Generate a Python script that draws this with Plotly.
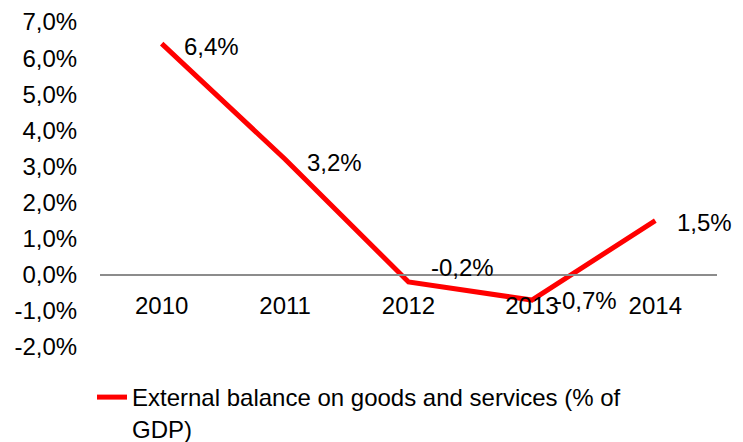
import plotly.graph_objects as go

years = ["2010", "2011", "2012", "2013", "2014"]
balance_pct = [6.4, 3.2, -0.2, -0.7, 1.5]
series_name = "External balance on goods and services (% of<br>GDP)"
y_ticks = [-2, -1, 0, 1, 2, 3, 4, 5, 6, 7]


def pct_label(v, decimals=1):
    return f"{v:.{decimals}f}".replace(".", ",") + "%"


y_tick_text = [pct_label(v) for v in y_ticks]

FONT = "Liberation Sans, Arial, sans-serif"
FS = 24
RED = "#FF0000"

fig = go.Figure()
fig.add_trace(go.Scatter(
    x=years, y=balance_pct, mode="lines",
    line=dict(color=RED, width=5),
    name=series_name, showlegend=True,
))

# value labels to the right of each point (category axis -> use index)
label_yshift = [-3, -3, 15, 0, -2]
for i, (v, ys) in enumerate(zip(balance_pct, label_yshift)):
    fig.add_annotation(
        x=i, y=v, xref="x", yref="y",
        text=pct_label(v),
        showarrow=False, xanchor="left", yanchor="middle",
        xshift=20, yshift=ys,
        font=dict(family=FONT, size=FS, color="#000"),
    )

fig.update_layout(
    width=743, height=442,
    margin=dict(l=100, r=26, t=22, b=95, autoexpand=False),
    paper_bgcolor="white", plot_bgcolor="white",
    font=dict(family=FONT, size=FS, color="#000"),
    showlegend=True,
    legend=dict(
        xref="container", yref="container",
        x=92 / 743, y=1 - 375 / 442, xanchor="left", yanchor="top",
        orientation="h", valign="top",
        font=dict(family=FONT, size=FS, color="#000"),
        bgcolor="rgba(0,0,0,0)",
    ),
    xaxis=dict(
        type="category",
        anchor="free", position=2 / 9,
        showline=True, linecolor="#8c8c8c", linewidth=1.5,
        showgrid=False, zeroline=False,
        ticks="outside", ticklen=10, tickcolor="rgba(0,0,0,0)",
        range=[-0.5, 4.5],
    ),
    yaxis=dict(
        range=[-2, 7],
        tickmode="array", tickvals=y_ticks, ticktext=y_tick_text,
        showgrid=False, zeroline=False, showline=False,
        ticks="outside", ticklen=17, tickcolor="rgba(0,0,0,0)",
    ),
)

fig.write_html("out.html")
